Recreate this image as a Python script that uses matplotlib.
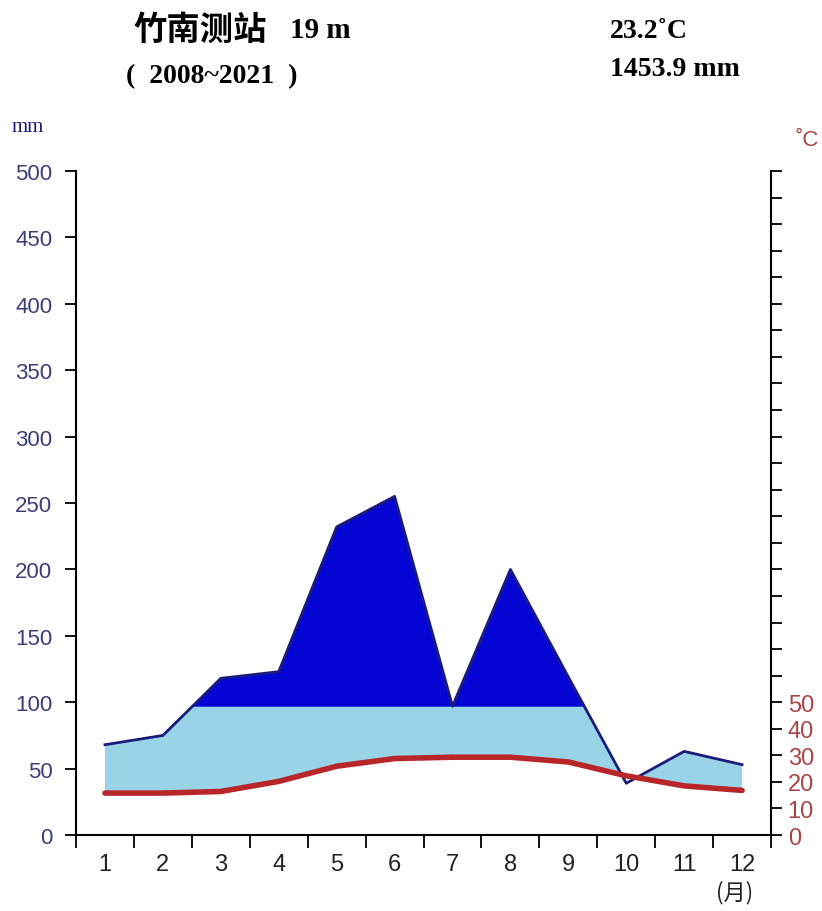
"""Walter-Lieth style climate diagram for the Zhunan station."""

import matplotlib

matplotlib.use("Agg")
import matplotlib.pyplot as plt
import numpy as np

months = np.arange(1, 13)
month_labels = [str(m) for m in months]
precip_mm = np.array([68, 75, 118, 123, 232, 255, 97, 200, 119, 39, 63, 53])
temp_c = np.array([15.8, 15.8, 16.4, 20.2, 25.9, 28.8, 29.3, 29.3, 27.5, 22.3, 18.5, 16.8])

station = "竹南测站"
elevation = "19 m"
period = "(  2008~2021  )"
mean_temp = "23.2˚C"
annual_precip = "1453.9 mm"

left_ticks = list(range(0, 501, 50))
right_ticks = list(range(0, 251, 10))
right_labels = [str(t) if t <= 50 else "" for t in right_ticks]

MM_PER_DEG = 2      # Walter-Lieth scale: 10 degC = 20 mm
WET_CAP = 97        # where the light/dark blue split is drawn

NAVY = "#1b1b7a"
DARK_BLUE = "#0505d6"
LIGHT_BLUE = "#98d3e8"
RED = "#b8262a"
LABEL_BLUE = "#3d3d78"
LABEL_RED = "#a84545"

SANS = ["Liberation Sans", "DejaVu Sans"]
SERIF = ["Liberation Serif", "Noto Sans CJK SC", "DejaVu Sans"]

fig = plt.figure(figsize=(8.22, 9.12), dpi=100)
ax = fig.add_axes([0.0925, 0.0833, 0.8455, 0.7281])

temp_mm = temp_c * MM_PER_DEG

# humid period: between temperature curve and precipitation
ax.fill_between(months, temp_mm, precip_mm, where=precip_mm >= temp_mm,
                interpolate=True, color=LIGHT_BLUE, linewidth=0, zorder=1)
# very wet part above the cap, painted over the light blue
ax.fill_between(months, WET_CAP, precip_mm, where=precip_mm >= WET_CAP,
                interpolate=True, color=DARK_BLUE, linewidth=0, zorder=2)

ax.plot(months, precip_mm, color=NAVY, lw=2, zorder=3)
ax.plot(months, temp_mm, color=RED, lw=4, solid_capstyle="round",
        solid_joinstyle="round", zorder=4)

ax.set_xlim(0.5, 12.5)
ax.set_ylim(0, 500)
ax.set_yticks(left_ticks)
ax.set_yticklabels([str(t) for t in left_ticks], color=LABEL_BLUE,
                   family=SANS, fontsize=16)
ax.set_xticks(months)
ax.set_xticklabels(month_labels, family=SANS, fontsize=17, color="#222222")
ax.set_xticks(np.arange(0.5, 13, 1), minor=True)
ax.tick_params(axis="x", which="major", length=0, pad=13)
ax.tick_params(axis="x", which="minor", length=9, width=1.3, direction="out")
ax.tick_params(axis="y", length=8, width=1.3, direction="out", pad=9)

for side in ("top", "right"):
    ax.spines[side].set_visible(False)
for side in ("left", "bottom"):
    ax.spines[side].set_linewidth(1.5)

ax2 = ax.twinx()
ax2.set_ylim(0, 500 / MM_PER_DEG)
ax2.set_yticks(right_ticks)
ax2.set_yticklabels(right_labels, color=LABEL_RED, family=SANS, fontsize=17)
ax2.tick_params(axis="y", length=8, width=1.3, direction="out", pad=4)
ax2.spines["right"].set_linewidth(1.5)
ax2.spines["top"].set_visible(False)
ax2.spines["left"].set_visible(False)
ax2.spines["bottom"].set_visible(False)

# header texts
fig.text(133 / 822, 1 - 30 / 912, station, family=["Noto Sans CJK SC"],
         fontsize=24, fontweight="bold", va="center", ha="left")
fig.text(290 / 822, 1 - 30 / 912, elevation, family=SERIF,
         fontsize=21, fontweight="bold", va="center", ha="left")
fig.text(126 / 822, 1 - 77 / 912, period, family=SERIF, fontsize=20,
         fontweight="bold", va="center", ha="left")
fig.text(610 / 822, 1 - 31 / 912, mean_temp, family=SERIF, fontsize=20,
         fontweight="bold", va="center", ha="left")
fig.text(610 / 822, 1 - 70 / 912, annual_precip, family=SERIF, fontsize=20,
         fontweight="bold", va="center", ha="left")
fig.text(12 / 822, 1 - 127 / 912, "mm", family=SERIF, fontsize=15,
         color=NAVY, va="center", ha="left")
fig.text(795 / 822, 1 - 140 / 912, "˚C", family=SANS, fontsize=16,
         color=LABEL_RED, va="center", ha="left")
fig.text(735 / 822, 1 - 893 / 912, "(月)", family=["Noto Sans CJK SC"],
         fontsize=16, color="#222222", va="center", ha="center")

fig.savefig("out.png", dpi=100)
plt.close(fig)
